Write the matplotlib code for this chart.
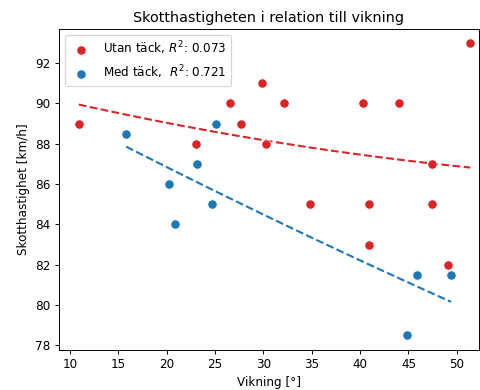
import numpy as np
import matplotlib
matplotlib.use("Agg")
import matplotlib.pyplot as plt

# Utan täck (red)
utan_vikning = [10.9, 23.0, 26.5, 27.7, 29.8, 30.3, 32.1, 34.8, 40.3, 40.9, 40.9, 44.0, 47.4, 47.4, 49.1, 51.4]
utan_hast = [89, 88, 90, 89, 91, 88, 90, 85, 90, 85, 83, 90, 87, 85, 82, 93]

# Med täck (blue)
med_vikning = [15.8, 20.2, 20.8, 23.1, 24.7, 25.1, 44.8, 45.9, 49.4]
med_hast = [88.5, 86, 84, 87, 85, 89, 78.5, 81.5, 81.5]

utan_label = "Utan täck, $R^2$: 0.073"
med_label = "Med täck,  $R^2$: 0.721"

red = "#d62728"
blue = "#1f77b4"

# the original looks like a ~5.5x4.5 in figure shrunk down to 480x390
dpi = 86.5
fig = plt.figure(figsize=(480 / dpi, 390 / dpi), dpi=dpi)
ax = fig.add_axes([0.122, 0.103, 0.876, 0.823])

ax.scatter(utan_vikning, utan_hast, s=60, color=red, edgecolor="white", linewidth=0.6, label=utan_label, zorder=3)
ax.scatter(med_vikning, med_hast, s=60, color=blue, edgecolor="white", linewidth=0.6, label=med_label, zorder=3)

# trend lines fitted to the data
for xs, ys, c in [(utan_vikning, utan_hast, red), (med_vikning, med_hast, blue)]:
    xs = np.array(xs)
    p = np.polyfit(xs, ys, 2)
    xx = np.linspace(xs.min(), xs.max(), 100)
    ax.plot(xx, np.polyval(p, xx), "--", color=c, linewidth=1.75, zorder=2)

ax.set_xlim(8.8, 52.3)
ax.set_ylim(77.78, 93.7)
ax.set_xticks([10, 15, 20, 25, 30, 35, 40, 45, 50])
ax.set_yticks([78, 80, 82, 84, 86, 88, 90, 92])
ax.set_xlabel("Vikning [°]")
ax.set_ylabel("Skotthastighet [km/h]")
ax.set_title("Skotthastigheten i relation till vikning")
ax.legend(loc="upper left")

plt.savefig("out.png", dpi=dpi)
